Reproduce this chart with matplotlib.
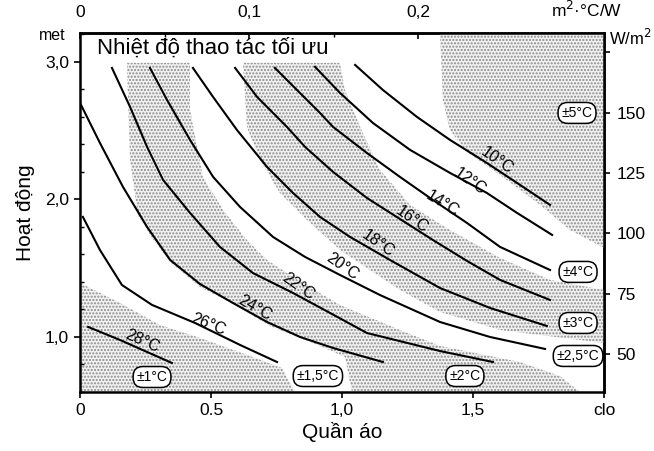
import matplotlib
matplotlib.use("Agg")
import matplotlib.pyplot as plt
from matplotlib.ticker import FixedLocator, MultipleLocator

plt.rcParams['font.family'] = ['Liberation Sans', 'DejaVu Sans']
NARROW = ['Liberation Sans Narrow', 'Liberation Sans', 'DejaVu Sans']

# isotherms of optimal operative temperature, clothing (clo) vs activity (met)
t28_clo = [0.031, 0.153, 0.256, 0.351]
t28_met = [1.073, 0.978, 0.891, 0.811]
t26_clo = [0.011, 0.076, 0.160, 0.275, 0.439, 0.611, 0.752]
t26_met = [1.873, 1.633, 1.378, 1.233, 1.102, 0.942, 0.818]
t24_clo = [0.0, 0.076, 0.164, 0.256, 0.344, 0.458, 0.584, 0.714, 0.840, 0.966, 1.156]
t24_met = [2.702, 2.411, 2.091, 1.800, 1.560, 1.385, 1.247, 1.109, 1.0, 0.920, 0.818]
t22_clo = [0.122, 0.191, 0.256, 0.317, 0.420, 0.534, 0.660, 0.813, 0.954, 1.095, 1.374, 1.576]
t22_met = [2.956, 2.673, 2.382, 2.142, 1.902, 1.655, 1.465, 1.320, 1.175, 1.029, 0.898, 0.818]
t20_clo = [0.267, 0.332, 0.420, 0.508, 0.611, 0.737, 0.859, 0.992, 1.145, 1.374, 1.565, 1.775]
t20_met = [2.956, 2.724, 2.433, 2.164, 1.945, 1.727, 1.582, 1.451, 1.305, 1.109, 1.0, 0.913]
t18_clo = [0.431, 0.508, 0.599, 0.714, 0.813, 0.916, 1.031, 1.183, 1.374, 1.565, 1.782]
t18_met = [2.956, 2.745, 2.505, 2.236, 2.047, 1.873, 1.727, 1.560, 1.356, 1.211, 1.080]
t16_clo = [0.592, 0.676, 0.790, 0.859, 0.966, 1.095, 1.221, 1.347, 1.477, 1.603, 1.794]
t16_met = [2.956, 2.745, 2.527, 2.382, 2.2, 2.011, 1.858, 1.705, 1.553, 1.415, 1.269]
t14_clo = [0.744, 0.828, 0.916, 0.966, 1.095, 1.221, 1.347, 1.477, 1.603, 1.794]
t14_met = [2.956, 2.796, 2.629, 2.527, 2.338, 2.164, 1.996, 1.829, 1.655, 1.487]
t12_clo = [0.897, 0.992, 1.118, 1.260, 1.412, 1.553, 1.668, 1.802]
t12_met = [2.964, 2.775, 2.556, 2.360, 2.193, 2.047, 1.902, 1.742]
t10_clo = [1.050, 1.156, 1.286, 1.412, 1.553, 1.668, 1.794]
t10_met = [2.978, 2.796, 2.600, 2.433, 2.265, 2.120, 1.960]

# borders between tolerance zones
b1_clo = [0.0, 0.153, 0.305, 0.458, 0.649, 0.771, 0.821]
b1_met = [1.393, 1.247, 1.087, 0.993, 0.862, 0.775, 0.6]
b2_clo = [0.179, 0.191, 0.221, 0.267, 0.344, 0.458, 0.599, 0.725, 0.916, 1.011, 1.038]
b2_met = [2.993, 2.287, 1.887, 1.742, 1.545, 1.364, 1.225, 1.080, 0.935, 0.855, 0.6]
b3_clo = [0.420, 0.420, 0.469, 0.546, 0.637, 0.714, 0.813, 0.992, 1.221, 1.374, 1.679, 1.832, 1.908]
b3_met = [2.993, 2.651, 2.164, 1.924, 1.705, 1.560, 1.436, 1.233, 1.051, 0.935, 0.818, 0.716, 0.6]
b4_clo = [0.622, 0.637, 0.687, 0.763, 0.866, 0.992, 1.221, 1.374, 1.603, 2.0]
b4_met = [2.993, 2.527, 2.287, 2.047, 1.851, 1.633, 1.342, 1.182, 1.051, 0.956]
b5_clo = [0.992, 1.011, 1.069, 1.145, 1.260, 1.412, 1.603, 1.794, 2.0]
b5_met = [2.993, 2.796, 2.527, 2.215, 1.960, 1.778, 1.575, 1.415, 1.342]
b6_clo = [1.374, 1.385, 1.412, 1.477, 1.603, 1.756, 1.870, 2.0]
b6_met = [3.211, 2.724, 2.505, 2.345, 2.178, 1.960, 1.778, 1.647]

temps = [28, 26, 24, 22, 20, 18, 16, 14, 12, 10]
tol_labels = ['±1°C', '±1,5°C', '±2°C', '±2,5°C', '±3°C', '±4°C', '±5°C']

CLO_MIN, CLO_MAX = 0.0, 2.0
MET_MIN, MET_MAX = 0.6, 3.21
W_PER_MET = 57.0
M2K_PER_CLO = 0.155

curves = [(t28_clo, t28_met), (t26_clo, t26_met), (t24_clo, t24_met), (t22_clo, t22_met),
          (t20_clo, t20_met), (t18_clo, t18_met), (t16_clo, t16_met), (t14_clo, t14_met),
          (t12_clo, t12_met), (t10_clo, t10_met)]

fig = plt.figure(figsize=(6.54, 4.51), dpi=100)
ax = fig.add_axes([80 / 654, 1 - 392 / 451, 524 / 654, 359 / 451])
ax.set_xlim(CLO_MIN, CLO_MAX)
ax.set_ylim(MET_MIN, MET_MAX)

# stippled zones (±1, ±2, ±3, ±5)
stip = dict(facecolor='#f1f1f1', edgecolor='#8a8a8a', hatch='.....', linewidth=0, zorder=1)
ax.fill(b1_clo + [CLO_MIN], b1_met + [MET_MIN], **stip)
ax.fill(b2_clo + b3_clo[::-1], b2_met + b3_met[::-1], **stip)
ax.fill(b4_clo + b5_clo[::-1], b4_met + b5_met[::-1], **stip)
ax.fill(b6_clo + [CLO_MAX], b6_met + [MET_MAX], **stip)

for c, m in curves:
    ax.plot(c, m, color='black', lw=1.5, zorder=3, solid_joinstyle='round')

# curve labels
lab_pos = [(0.240, 0.968, -24), (0.489, 1.092, -22), (0.668, 1.208, -30), (0.832, 1.370, -35),
           (1.0, 1.515, -35), (1.137, 1.682, -35), (1.267, 1.850, -35), (1.382, 1.972, -32),
           (1.489, 2.132, -35), (1.592, 2.285, -35)]
for t, (x, y, r) in zip(temps, lab_pos):
    ax.text(x, y, f'{t}°C', rotation=r, ha='center', va='center', fontsize=11.5,
            family=NARROW, zorder=4)

# tolerance tags
tol_pos = [(0.275, 0.709), (0.908, 0.716), (1.469, 0.716), (1.901, 0.862),
           (1.901, 1.102), (1.901, 1.473), (1.897, 2.629)]
for s, (x, y) in zip(tol_labels, tol_pos):
    ax.text(x, y, s, ha='center', va='center', fontsize=10, family=NARROW, zorder=5,
            bbox=dict(boxstyle='round,pad=0.25,rounding_size=0.7', fc='white', ec='black', lw=1.1))

ax.text(0.065, 3.10, 'Nhiệt độ thao tác tối ưu', fontsize=16, ha='left', va='center', zorder=6)

for sp in ax.spines.values():
    sp.set_linewidth(1.8)

# clo axis (bottom)
ax.xaxis.set_major_locator(FixedLocator([0, 0.5, 1.0, 1.5, 2.0]))
ax.set_xticklabels(['0', '0.5', '1,0', '1,5', 'clo'], family=NARROW)
ax.tick_params(axis='x', direction='out', length=4, width=1.2, labelsize=12.5, pad=4)
ax.set_xlabel('Quần áo', fontsize=15, labelpad=3)

# met axis (left)
ax.yaxis.set_major_locator(FixedLocator([1.0, 2.0, 3.0]))
ax.yaxis.set_minor_locator(MultipleLocator(0.2))
ax.set_yticklabels(['1,0', '2,0', '3,0'], family=NARROW)
ax.tick_params(axis='y', which='major', direction='out', length=4, width=1.2, labelsize=12.5, pad=4)
ax.tick_params(axis='y', which='minor', direction='in', length=3, width=1)
ax.set_ylabel('Hoạt động', fontsize=15, labelpad=7)
ax.text(-0.053, 0.992, 'met', transform=ax.transAxes, ha='center', va='center',
        fontsize=11.5, family=NARROW)

# m2.C/W axis (top)
top = ax.secondary_xaxis('top', functions=(lambda c: c * M2K_PER_CLO, lambda r: r / M2K_PER_CLO))
top.xaxis.set_major_locator(FixedLocator([0, 0.1, 0.2, 0.3]))
top.xaxis.set_minor_locator(MultipleLocator(0.05))
top.set_xticklabels(['0', '0,1', '0,2', 'm$^2$·°C/W'], family=NARROW)
top.tick_params(which='major', direction='in', length=4, width=1.2, labelsize=12.5, pad=9)
top.tick_params(which='minor', direction='in', length=3, width=1)
top.spines['top'].set_linewidth(1.8)

# W/m2 axis (right)
right = ax.secondary_yaxis('right', functions=(lambda m: m * W_PER_MET, lambda w: w / W_PER_MET))
right.yaxis.set_major_locator(FixedLocator([50, 75, 100, 125, 150, 175]))
right.set_yticklabels(['50', '75', '100', '125', '150', ''], family=NARROW)
right.tick_params(direction='out', length=4, width=1.2, labelsize=12.5, pad=5)
right.spines['right'].set_linewidth(1.8)
ax.text(1.05, 0.986, 'W/m$^2$', transform=ax.transAxes, ha='center', va='center',
        fontsize=12, family=NARROW)

fig.savefig('out.png', dpi=100)
